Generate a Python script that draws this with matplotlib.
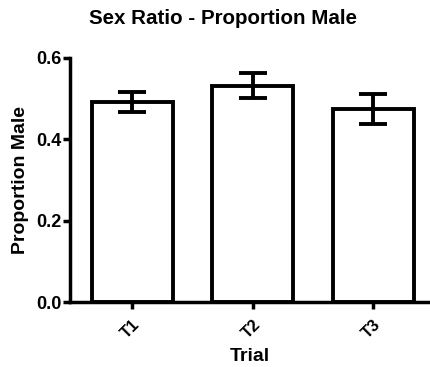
import matplotlib
matplotlib.use("Agg")
import matplotlib.pyplot as plt

trials = ["T1", "T2", "T3"]
proportion_male = [0.491, 0.532, 0.475]
sem = [0.025, 0.030, 0.037]
yticks = [0.0, 0.2, 0.4, 0.6]

plt.rcParams["font.family"] = ["Liberation Sans", "DejaVu Sans"]
plt.rcParams["font.weight"] = "bold"

fig = plt.figure(figsize=(4.31, 3.67), dpi=100)
ax = fig.add_axes([0.1624, 0.177, 0.8353, 0.665])

x = list(range(len(trials)))
ax.bar(x, proportion_male, width=0.67, color="white", edgecolor="black",
       linewidth=2.8, zorder=2)
ax.errorbar(x, proportion_male, yerr=sem, fmt="none", ecolor="black",
            elinewidth=2.8, capsize=10, capthick=2.8, zorder=3)

ax.set_xlim(-0.515, 2.47)
ax.set_ylim(0, 0.6)
ax.set_yticks(yticks)
ax.set_yticklabels([f"{v:.1f}" for v in yticks])
ax.set_xticks(x)
ax.set_xticklabels(trials, rotation=45, ha="right", rotation_mode="anchor")

for side in ("top", "right"):
    ax.spines[side].set_visible(False)
for side in ("left", "bottom"):
    ax.spines[side].set_linewidth(2.5)
ax.tick_params(axis="both", width=2.5, length=5)
ax.tick_params(axis="y", labelsize=13, pad=1)
ax.tick_params(axis="x", labelsize=12, pad=6)

ax.set_ylabel("Proportion Male", fontsize=14, fontweight="bold", labelpad=5)
ax.set_xlabel("Trial", fontsize=14, fontweight="bold", labelpad=5)
fig.text(0.518, 1 - 19 / 367, "Sex Ratio - Proportion Male", fontsize=14.8,
         fontweight="bold", ha="center", va="center")

fig.savefig("out.png", dpi=100)
